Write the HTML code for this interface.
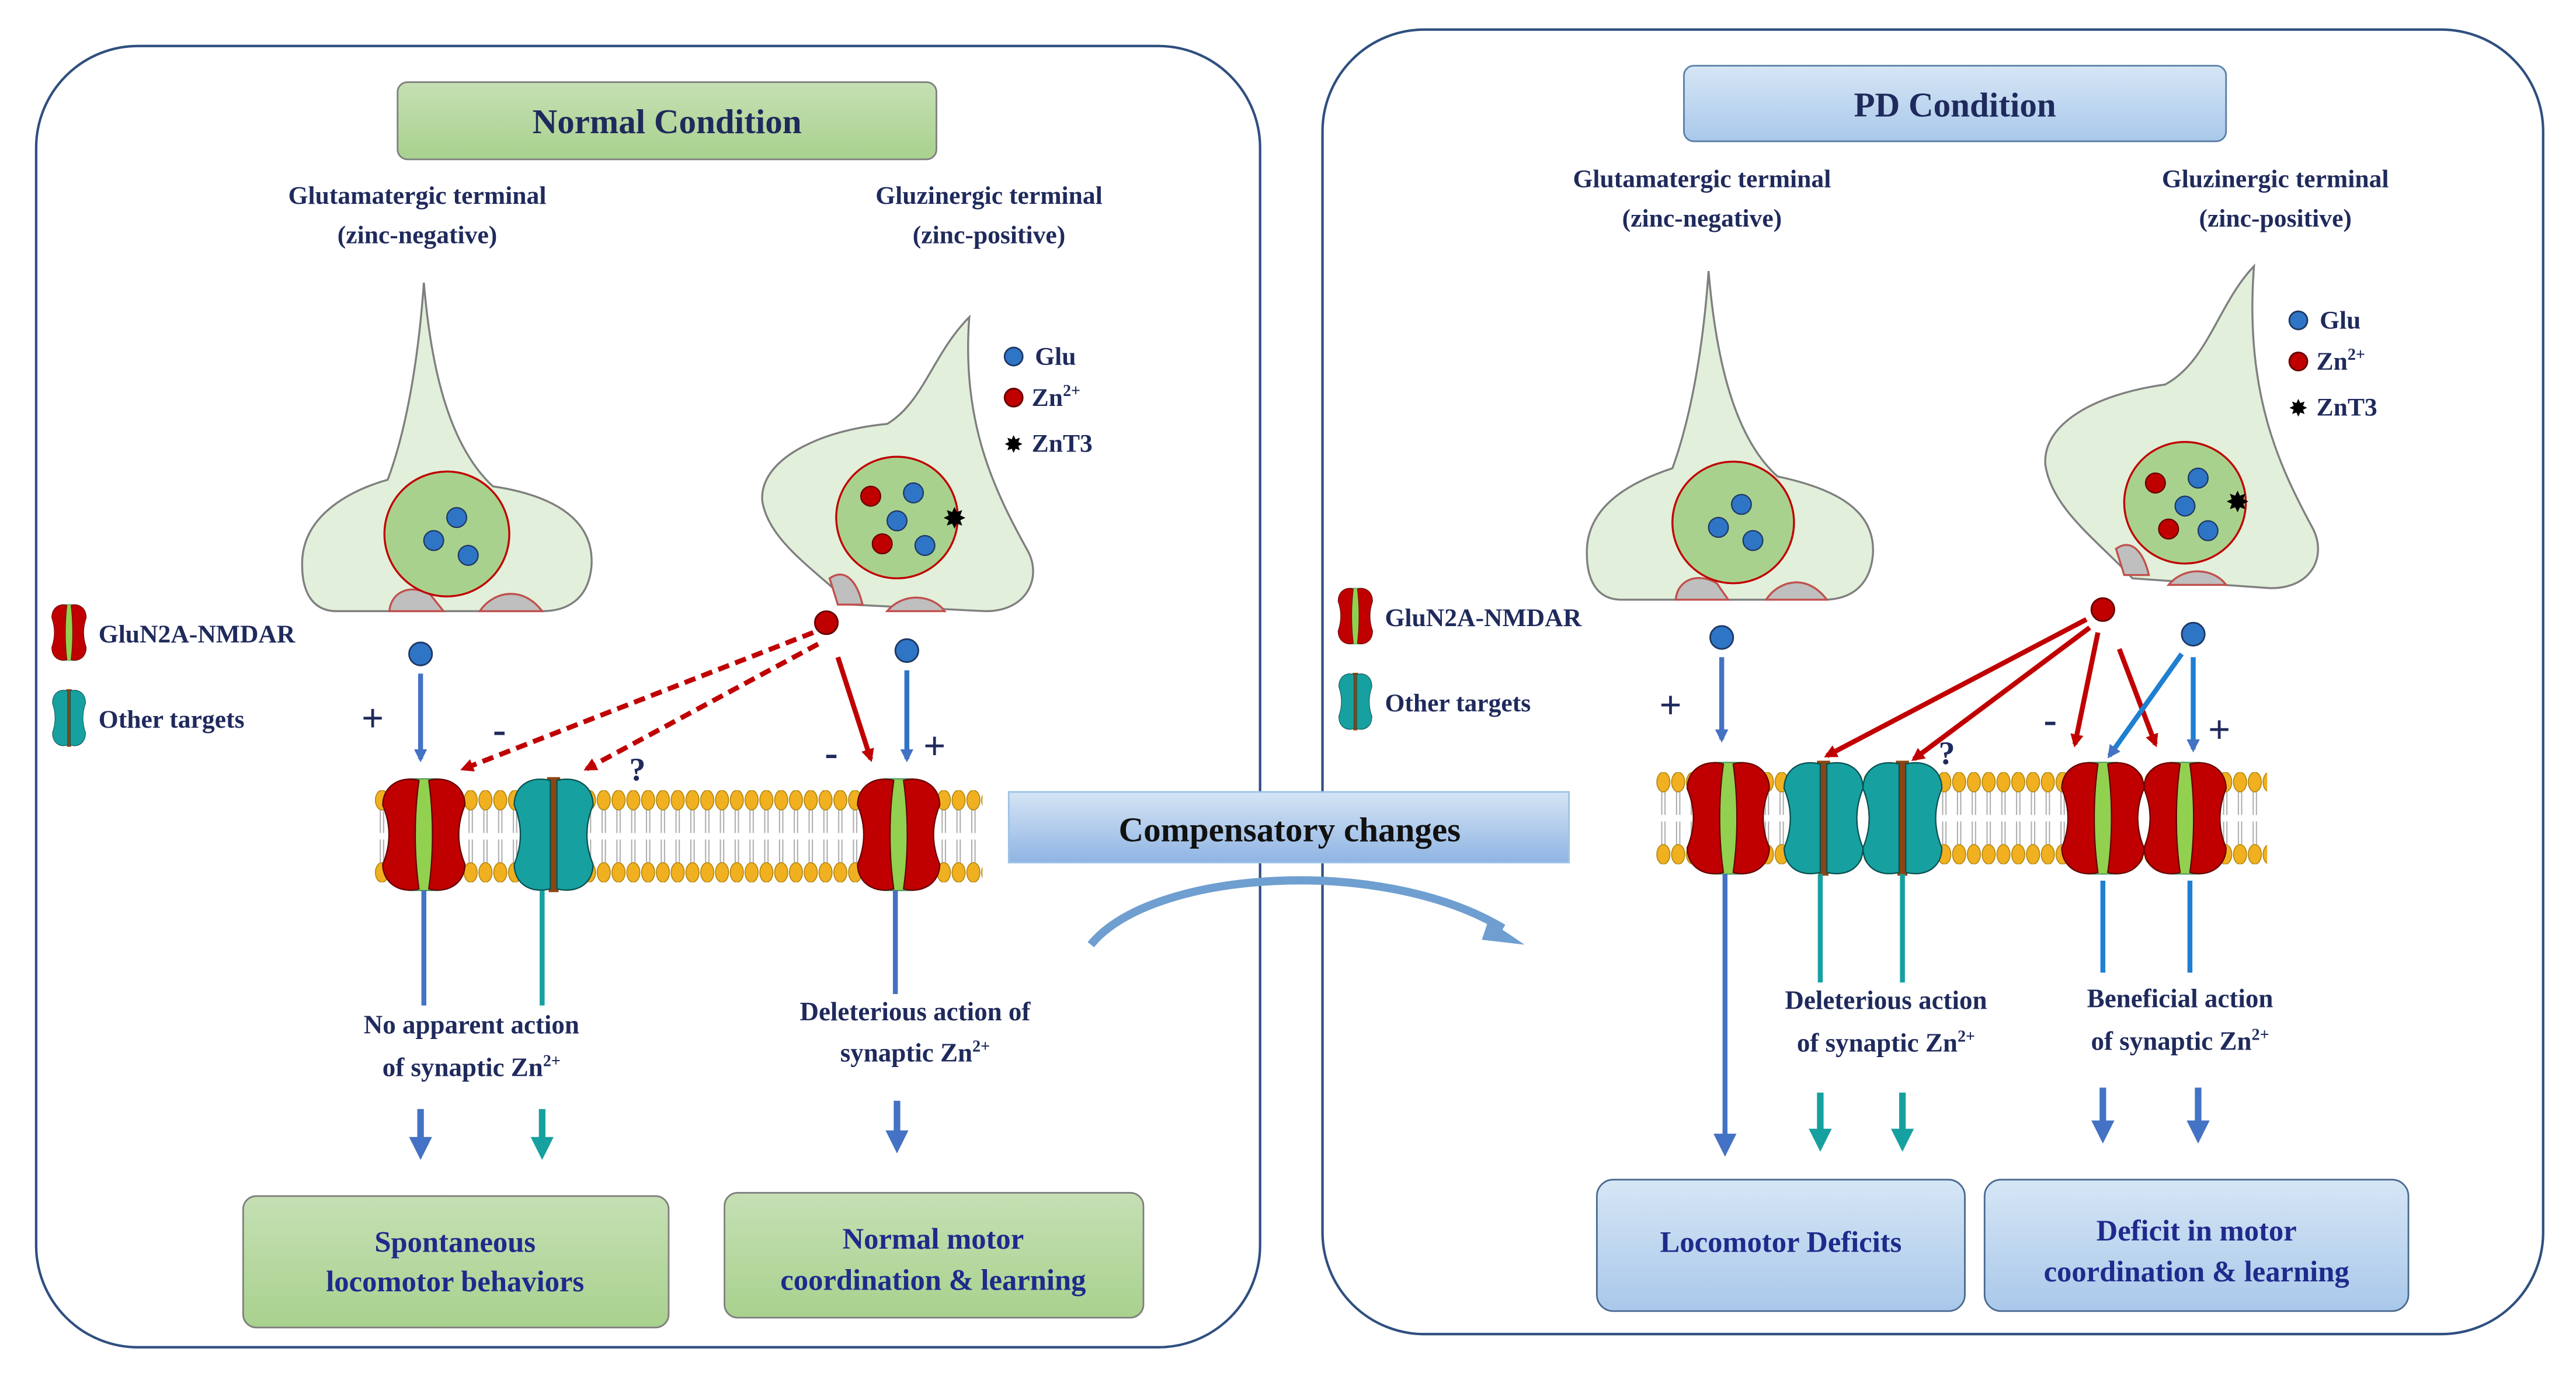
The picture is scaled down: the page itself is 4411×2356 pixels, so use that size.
<!DOCTYPE html>
<html><head><meta charset="utf-8"><style>
html,body{margin:0;padding:0;background:#fff;}
svg{display:block;}
text{font-family:"Liberation Serif",serif;font-weight:bold;fill:#1f2a5c;}
</style></head><body>
<svg width="4411" height="2356" viewBox="0 0 1568 837.5" xmlns="http://www.w3.org/2000/svg">
<defs>
<linearGradient id="gg" x1="0" y1="0" x2="0" y2="1"><stop offset="0" stop-color="#c5e0b4"/><stop offset="1" stop-color="#a9d18e"/></linearGradient>
<linearGradient id="bg" x1="0" y1="0" x2="0" y2="1"><stop offset="0" stop-color="#d6e6f5"/><stop offset="1" stop-color="#a9c8ea"/></linearGradient>
<linearGradient id="cg" x1="0" y1="0" x2="0" y2="1"><stop offset="0" stop-color="#d5e5f5"/><stop offset="1" stop-color="#8fb4e3"/></linearGradient>
<g id="memcell">
<line x1="3.5" y1="12" x2="3.5" y2="26" stroke="#aaa" stroke-width="0.7"/>
<line x1="5.5" y1="12" x2="5.5" y2="26" stroke="#aaa" stroke-width="0.7"/>
<line x1="3.5" y1="30" x2="3.5" y2="44" stroke="#aaa" stroke-width="0.7"/>
<line x1="5.5" y1="30" x2="5.5" y2="44" stroke="#aaa" stroke-width="0.7"/>
<ellipse cx="4.5" cy="6" rx="4" ry="6" fill="#f0b020" stroke="#a67a00" stroke-width="0.5"/>
<ellipse cx="4.5" cy="50" rx="4" ry="6" fill="#f0b020" stroke="#a67a00" stroke-width="0.5"/>
</g>
<pattern id="memL" x="228" y="481" width="9" height="56" patternUnits="userSpaceOnUse"><use href="#memcell"/></pattern>
<pattern id="memR" x="1008" y="470" width="9" height="56" patternUnits="userSpaceOnUse"><use href="#memcell"/></pattern>
<marker id="ab" markerWidth="8" markerHeight="8" refX="6" refY="4" orient="auto" markerUnits="userSpaceOnUse" viewBox="0 0 8 8"><path d="M0,0 L8,4 L0,8 Z" fill="#4472c4"/></marker>
<marker id="ar" markerWidth="8" markerHeight="8" refX="6" refY="4" orient="auto" markerUnits="userSpaceOnUse" viewBox="0 0 8 8"><path d="M0,0 L8,4 L0,8 Z" fill="#c00000"/></marker>
<marker id="ab2" markerWidth="14" markerHeight="14" refX="10" refY="7" orient="auto" markerUnits="userSpaceOnUse" viewBox="0 0 14 14"><path d="M0,0 L14,7 L0,14 Z" fill="#4472c4"/></marker>
<marker id="at2" markerWidth="14" markerHeight="14" refX="10" refY="7" orient="auto" markerUnits="userSpaceOnUse" viewBox="0 0 14 14"><path d="M0,0 L14,7 L0,14 Z" fill="#17a0a0"/></marker>
<g id="nm">
<path d="M-9,-34 L9,-34 C5,-12 5,12 9,34 L-9,34 C-5,12 -5,-12 -9,-34 Z" fill="#92d050" stroke="#385" stroke-width="0.6"/>
<path d="M-3,-33 C-14,-36 -25,-30 -25,-18 C-20,-6 -20,6 -25,18 C-25,30 -14,36 -3,33 C-6,12 -6,-12 -3,-33 Z" fill="#c00000" stroke="#600" stroke-width="0.8"/>
<path d="M3,-33 C14,-36 25,-30 25,-18 C20,-6 20,6 25,18 C25,30 14,36 3,33 C6,12 6,-12 3,-33 Z" fill="#c00000" stroke="#600" stroke-width="0.8"/>
</g>
<g id="ot">
<path d="M-4,-35 L4,-35 L3,35 L-3,35 Z" fill="#8b4513"/>
<path d="M-2,-33 C-14,-36 -24,-30 -24,-18 C-19,-6 -19,6 -24,18 C-24,30 -14,36 -2,33 Z" fill="#17a0a0" stroke="#0a5050" stroke-width="0.8"/>
<path d="M2,-33 C14,-36 24,-30 24,-18 C19,-6 19,6 24,18 C24,30 14,36 2,33 Z" fill="#17a0a0" stroke="#0a5050" stroke-width="0.8"/>
</g>
<g id="nms"><use href="#nm" transform="scale(0.42,0.5)"/></g>
<g id="ots"><use href="#ot" transform="scale(0.42,0.5)"/></g>
</defs>

<rect x="22" y="28" width="745" height="792" rx="62" fill="#fff" stroke="#2f4f7f" stroke-width="1.5"/>
<rect x="805" y="18" width="743" height="794" rx="62" fill="#fff" stroke="#2f4f7f" stroke-width="1.5"/>

<rect x="242" y="50" width="328" height="47" rx="6" fill="url(#gg)" stroke="#7f7f7f"/>
<text x="406" y="81" font-size="21" text-anchor="middle">Normal  Condition</text>
<rect x="1025" y="40" width="330" height="46" rx="6" fill="url(#bg)" stroke="#5b7fa8"/>
<text x="1190" y="71" font-size="21" text-anchor="middle">PD Condition</text>

<g font-size="15.5" text-anchor="middle">
<text x="254" y="124">Glutamatergic  terminal</text><text x="254" y="148">(zinc-negative)</text>
<text x="602" y="124">Gluzinergic  terminal</text><text x="602" y="148">(zinc-positive)</text>
<text x="1036" y="114">Glutamatergic  terminal</text><text x="1036" y="138">(zinc-negative)</text>
<text x="1385" y="114">Gluzinergic  terminal</text><text x="1385" y="138">(zinc-positive)</text>
</g>

<g fill="#e2efda" stroke="#7f7f7f" stroke-width="1.2">
<path d="M258,172 C262,220 272,270 300,296 C340,302 362,318 360,345 C358,365 345,372 330,372 L205,372 C190,372 183,360 184,340 C186,312 215,298 236,292 C248,260 255,215 258,172 Z"/>
<path d="M590,193 C568,215 562,245 540,258 C498,262 462,280 464,305 C468,330 498,348 518,368 L600,372 C625,372 634,352 626,336 C606,300 585,258 590,193 Z"/>
<path d="M1040,165 C1044,213 1054,265 1082,290 C1120,298 1142,312 1140,338 C1138,358 1125,365 1110,365 L987,365 C972,365 965,353 966,333 C968,305 997,292 1018,285 C1030,252 1037,208 1040,165 Z"/>
<path d="M1372,162 C1350,185 1344,220 1318,234 C1275,240 1243,258 1245,283 C1249,310 1278,330 1298,352 L1382,358 C1408,358 1416,338 1408,322 C1388,285 1366,240 1372,162 Z"/>
</g>
<g fill="#bfbfbf" stroke="#c0504d" stroke-width="1.2">
<path d="M237,372 C238,360 250,355 262,362 L270,372 Z"/>
<path d="M292,372 C300,360 318,356 330,372 Z"/>
<path d="M505,352 C515,345 522,355 525,368 L510,368 Z"/>
<path d="M540,372 C550,360 568,362 575,372 Z"/>
<path d="M1020,365 C1021,353 1033,348 1045,355 L1052,365 Z"/>
<path d="M1075,365 C1083,353 1100,349 1112,365 Z"/>
<path d="M1288,334 C1298,327 1305,337 1308,350 L1293,350 Z"/>
<path d="M1320,356 C1330,344 1348,346 1355,356 Z"/>
</g>
<g fill="#a9d18e" stroke="#c00000" stroke-width="1.2">
<circle cx="272" cy="325" r="38"/><circle cx="546" cy="315" r="37"/>
<circle cx="1055" cy="318" r="37"/><circle cx="1330" cy="306" r="37"/>
</g>
<g fill="#2e75c6" stroke="#1f3864" stroke-width="0.8">
<circle cx="278" cy="315" r="6"/><circle cx="264" cy="329" r="6"/><circle cx="285" cy="338" r="6"/>
<circle cx="556" cy="300" r="6"/><circle cx="546" cy="317" r="6"/><circle cx="563" cy="332" r="6"/>
<circle cx="1060" cy="307" r="6"/><circle cx="1046" cy="321" r="6"/><circle cx="1067" cy="329" r="6"/>
<circle cx="1338" cy="291" r="6"/><circle cx="1330" cy="308" r="6"/><circle cx="1344" cy="323" r="6"/>
</g>
<g fill="#c00000" stroke="#600" stroke-width="0.8">
<circle cx="530" cy="302" r="6"/><circle cx="537" cy="331" r="6"/>
<circle cx="1312" cy="294" r="6"/><circle cx="1320" cy="322" r="6"/>
</g>
<text x="581" y="321" font-size="16" text-anchor="middle" style="fill:#000">✸</text>
<text x="1362" y="311" font-size="16" text-anchor="middle" style="fill:#000">✸</text>

<g font-size="15.5">
<circle cx="617" cy="217" r="5.5" fill="#2e75c6" stroke="#1f3864"/><text x="630" y="222">Glu</text>
<circle cx="617" cy="242" r="5.5" fill="#c00000" stroke="#600"/><text x="628" y="247">Zn<tspan font-size="10" dy="-6">2+</tspan></text>
<text x="617" y="275" font-size="13" text-anchor="middle" style="fill:#000">✸</text><text x="628" y="275">ZnT3</text>
<circle cx="1399" cy="195" r="5.5" fill="#2e75c6" stroke="#1f3864"/><text x="1412" y="200">Glu</text>
<circle cx="1399" cy="220" r="5.5" fill="#c00000" stroke="#600"/><text x="1410" y="225">Zn<tspan font-size="10" dy="-6">2+</tspan></text>
<text x="1399" y="253" font-size="13" text-anchor="middle" style="fill:#000">✸</text><text x="1410" y="253">ZnT3</text>
<use href="#nms" x="42" y="385"/><text x="60" y="391">GluN2A-NMDAR</text>
<use href="#ots" x="42" y="437"/><text x="60" y="443">Other targets</text>
<use href="#nms" x="825" y="375"/><text x="843" y="381">GluN2A-NMDAR</text>
<use href="#ots" x="825" y="427"/><text x="843" y="433">Other targets</text>
</g>

<rect x="228" y="481" width="370" height="56" fill="url(#memL)"/>
<rect x="1008" y="470" width="372" height="56" fill="url(#memR)"/>

<use href="#nm" x="258" y="508"/><use href="#ot" x="337" y="508"/><use href="#nm" x="547" y="508"/>
<use href="#nm" x="1052" y="498"/><use href="#ot" x="1110" y="498"/><use href="#ot" x="1158" y="498"/>
<use href="#nm" x="1280" y="498"/><use href="#nm" x="1330" y="498"/>

<circle cx="256" cy="398" r="7" fill="#2e75c6" stroke="#1f3864"/>
<circle cx="552" cy="396" r="7" fill="#2e75c6" stroke="#1f3864"/>
<circle cx="503" cy="379" r="7" fill="#c00000" stroke="#600"/>
<g stroke-width="3" fill="none">
<line x1="256" y1="410" x2="256" y2="462" stroke="#4472c4" marker-end="url(#ab)"/>
<line x1="552" y1="408" x2="552" y2="462" stroke="#2e75c6" marker-end="url(#ab)"/>
<line x1="510" y1="400" x2="530" y2="462" stroke="#c00000" marker-end="url(#ar)"/>
<line x1="495" y1="385" x2="282" y2="468" stroke="#c00000" stroke-dasharray="7,4" marker-end="url(#ar)"/>
<line x1="498" y1="392" x2="357" y2="468" stroke="#c00000" stroke-dasharray="7,4" marker-end="url(#ar)"/>
<line x1="258" y1="542" x2="258" y2="612" stroke="#4472c4"/>
<line x1="330" y1="542" x2="330" y2="612" stroke="#17a0a0"/>
<line x1="545" y1="542" x2="545" y2="605" stroke="#4472c4"/>
<line x1="256" y1="675" x2="256" y2="702" stroke="#4472c4" stroke-width="4" marker-end="url(#ab2)"/>
<line x1="330" y1="675" x2="330" y2="702" stroke="#17a0a0" stroke-width="4" marker-end="url(#at2)"/>
<line x1="546" y1="670" x2="546" y2="698" stroke="#4472c4" stroke-width="4" marker-end="url(#ab2)"/>
</g>
<g font-size="24">
<text x="220" y="445">+</text><text x="300" y="452">-</text><text x="502" y="466">-</text><text x="562" y="462">+</text>
<text x="383" y="475" font-size="20">?</text>
</g>
<g font-size="16" text-anchor="middle">
<text x="287" y="629">No apparent  action</text><text x="287" y="655">of synaptic  Zn<tspan font-size="10" dy="-6">2+</tspan></text>
<text x="557" y="621">Deleterious action of</text><text x="557" y="646">synaptic  Zn<tspan font-size="10" dy="-6">2+</tspan></text>
</g>

<circle cx="1048" cy="388" r="7" fill="#2e75c6" stroke="#1f3864"/>
<circle cx="1335" cy="386" r="7" fill="#2e75c6" stroke="#1f3864"/>
<circle cx="1280" cy="371" r="7" fill="#c00000" stroke="#600"/>
<g stroke-width="3" fill="none">
<line x1="1048" y1="400" x2="1048" y2="450" stroke="#4472c4" marker-end="url(#ab)"/>
<line x1="1270" y1="377" x2="1112" y2="460" stroke="#c00000" marker-end="url(#ar)"/>
<line x1="1272" y1="382" x2="1165" y2="462" stroke="#c00000" marker-end="url(#ar)"/>
<line x1="1277" y1="385" x2="1263" y2="453" stroke="#c00000" marker-end="url(#ar)"/>
<line x1="1290" y1="395" x2="1312" y2="453" stroke="#c00000" marker-end="url(#ar)"/>
<line x1="1328" y1="398" x2="1284" y2="460" stroke="#1f7fd0" marker-end="url(#ab)"/>
<line x1="1335" y1="400" x2="1335" y2="456" stroke="#1f7fd0" marker-end="url(#ab)"/>
<line x1="1050" y1="532" x2="1050" y2="700" stroke="#4472c4" marker-end="url(#ab2)"/>
<line x1="1108" y1="532" x2="1108" y2="598" stroke="#17a0a0"/>
<line x1="1158" y1="532" x2="1158" y2="598" stroke="#17a0a0"/>
<line x1="1280" y1="536" x2="1280" y2="592" stroke="#1f7fd0"/>
<line x1="1333" y1="536" x2="1333" y2="592" stroke="#1f7fd0"/>
<line x1="1108" y1="665" x2="1108" y2="697" stroke="#17a0a0" stroke-width="4" marker-end="url(#at2)"/>
<line x1="1158" y1="665" x2="1158" y2="697" stroke="#17a0a0" stroke-width="4" marker-end="url(#at2)"/>
<line x1="1280" y1="662" x2="1280" y2="692" stroke="#4472c4" stroke-width="4" marker-end="url(#ab2)"/>
<line x1="1338" y1="662" x2="1338" y2="692" stroke="#4472c4" stroke-width="4" marker-end="url(#ab2)"/>
</g>
<g font-size="24">
<text x="1010" y="437">+</text><text x="1244" y="446">-</text><text x="1344" y="452">+</text>
<text x="1180" y="465" font-size="20">?</text>
</g>
<g font-size="16" text-anchor="middle">
<text x="1148" y="614">Deleterious action</text><text x="1148" y="640">of synaptic  Zn<tspan font-size="10" dy="-6">2+</tspan></text>
<text x="1327" y="613">Beneficial action</text><text x="1327" y="639">of synaptic  Zn<tspan font-size="10" dy="-6">2+</tspan></text>
</g>

<rect x="614" y="482" width="341" height="43" fill="url(#cg)" stroke="#9dc3e6"/>
<text x="785" y="512" font-size="21" text-anchor="middle" style="fill:#111">Compensatory  changes</text>
<path d="M664,575 C700,530 840,520 915,565" fill="none" stroke="#6f9fd0" stroke-width="5"/>
<path d="M906,560 L928,575 L902,572 Z" fill="#6f9fd0"/>

<rect x="148" y="728" width="259" height="80" rx="8" fill="url(#gg)" stroke="#7f7f7f"/>
<rect x="441" y="726" width="255" height="76" rx="8" fill="url(#gg)" stroke="#7f7f7f"/>
<rect x="972" y="718" width="224" height="80" rx="10" fill="url(#bg)" stroke="#4a6a90"/>
<rect x="1208" y="718" width="258" height="80" rx="10" fill="url(#bg)" stroke="#4a6a90"/>
<g font-size="18" text-anchor="middle">
<text x="277" y="762" style="fill:#1f2a8c">Spontaneous</text><text x="277" y="786" style="fill:#1f2a8c">locomotor behaviors</text>
<text x="568" y="760" style="fill:#1f2a8c">Normal motor</text><text x="568" y="785" style="fill:#1f2a8c">coordination &amp; learning</text>
<text x="1084" y="762" style="fill:#1f2a8c">Locomotor Deficits</text>
<text x="1337" y="755" style="fill:#1f2a8c">Deficit in motor</text><text x="1337" y="780" style="fill:#1f2a8c">coordination &amp; learning</text>
</g>
</svg>
</body></html>
